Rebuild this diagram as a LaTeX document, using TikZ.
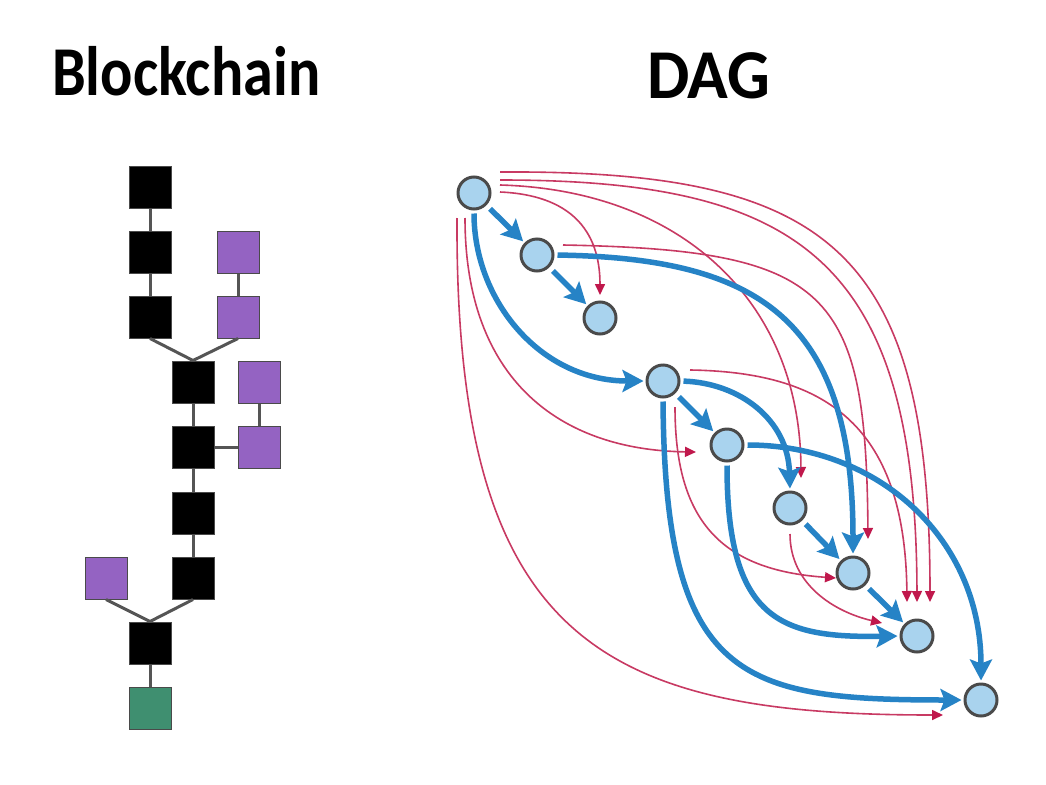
\documentclass[tikz,border=0pt]{standalone}
\usepackage{fontspec}
\setmainfont{Carlito}
\usetikzlibrary{arrows.meta,calc}
\definecolor{purp}{RGB}{148,99,194}
\definecolor{grn}{RGB}{63,143,112}
\definecolor{cfill}{RGB}{169,211,238}
\definecolor{cline}{RGB}{74,74,74}
\definecolor{blueA}{RGB}{38,131,198}
\definecolor{redA}{RGB}{200,58,99}
\definecolor{redT}{RGB}{192,24,76}
\definecolor{linkc}{RGB}{85,85,85}
\begin{document}
\begin{tikzpicture}[x=1pt,y=-1pt,
  sq/.style={rectangle,minimum size=42pt,inner sep=0pt,draw=cline,line width=1pt},
  bsq/.style={sq,fill=black},
  psq/.style={sq,fill=purp},
  gsq/.style={sq,fill=grn},
  blink/.style={draw=linkc,line width=3pt},
  dnode/.style={circle,minimum size=33pt,inner sep=0pt,fill=cfill,draw=cline,line width=2pt},
  barr/.style={draw=blueA,line width=5.5pt,-{Stealth[length=21pt,width=22pt,inset=4pt]},shorten <=5pt,shorten >=2pt},
  rarr/.style={draw=redA,line width=1.6pt,-{Triangle[length=11pt,width=10pt,fill=redT,color=redT]}},
  ttl/.style={anchor=base west,inner sep=0pt,font=\fontsize{70}{70}\selectfont\bfseries}
]
\useasboundingbox (0,0) rectangle (1046,784);
\fill[white] (0,0) rectangle (1046,784);

% titles
\node[ttl] (tb) at (52,95) {\scalebox{0.86}[1]{Blockchain}};
\node[ttl] (td) at (647,98) {\scalebox{0.96}[1]{DAG}};

% blockchain
\node[bsq] (b1) at (150,187) {};
\node[bsq] (b2) at (150,252) {};
\node[bsq] (b3) at (150,317) {};
\node[bsq] (b4) at (193,382) {};
\node[bsq] (b5) at (193,447) {};
\node[bsq] (b6) at (193,513) {};
\node[bsq] (b7) at (193,578) {};
\node[bsq] (b8) at (150,643) {};
\node[gsq] (g1) at (150,708) {};
\node[psq] (p1) at (238,252) {};
\node[psq] (p2) at (238,317) {};
\node[psq] (p3) at (259,382) {};
\node[psq] (p4) at (259,447) {};
\node[psq] (p5) at (106,578) {};

\draw[blink] (b1.south) -- (b2.north);
\draw[blink] (b2.south) -- (b3.north);
\draw[blink] (b3.south) -- (b4.north);
\draw[blink] (p1.south) -- (p2.north);
\draw[blink] (p2.south) -- (b4.north);
\draw[blink] (b4.south) -- (b5.north);
\draw[blink] (p3.south) -- (p4.north);
\draw[blink] (b5.east) -- (p4.west);
\draw[blink] (b5.south) -- (b6.north);
\draw[blink] (b6.south) -- (b7.north);
\draw[blink] (b7.south) -- (b8.north);
\draw[blink] (p5.south) -- (b8.north);
\draw[blink] (b8.south) -- (g1.north);

% DAG nodes
\node[dnode] (n1) at (474,193) {};
\node[dnode] (n2) at (537,255) {};
\node[dnode] (n3) at (600,318) {};
\node[dnode] (n4) at (663,381) {};
\node[dnode] (n5) at (727,445) {};
\node[dnode] (n6) at (790,508) {};
\node[dnode] (n7) at (853,573) {};
\node[dnode] (n8) at (917,636) {};
\node[dnode] (n9) at (981,700) {};

% red edges
\draw[rarr] ($(n1)+(26,-1)$) .. controls (570,195) and (600,230) .. ($(n3)+(0,-23)$);
\draw[rarr] ($(n1)+(26,-8)$) .. controls (680,190) and (800,300) .. ($(n6)+(11,-30)$);
\draw[rarr] ($(n1)+(26,-13)$) .. controls (800,180) and (916,260) .. ($(n8)+(0,-34)$);
\draw[rarr] ($(n1)+(26,-21)$) .. controls (830,170) and (930,250) .. ($(n8)+(13,-34)$);
\draw[rarr] ($(n1)+(-9,25)$) .. controls (465,380) and (560,450) .. ($(n5)+(-31,7)$);
\draw[rarr] ($(n1)+(-17,25)$) .. controls (455,640) and (600,715) .. ($(n9)+(-38,15)$);
\draw[rarr] ($(n2)+(26,-10)$) .. controls (830,250) and (866,290) .. ($(n7)+(15,-34)$);
\draw[rarr] ($(n4)+(27,-11)$) .. controls (820,372) and (905,420) .. ($(n8)+(-10,-34)$);
\draw[rarr] ($(n4)+(12,26)$) .. controls (675,520) and (720,570) .. ($(n7)+(-17,5)$);
\draw[rarr] ($(n6)+(0,26)$) .. controls (790,585) and (835,612) .. ($(n8)+(-35,-13)$);

% blue edges
\draw[barr] (n1) -- (n2);
\draw[barr] (n2) -- (n3);
\draw[barr] (n4) -- (n5);
\draw[barr] (n6) -- (n7);
\draw[barr] (n7) -- (n8);
\draw[barr,shorten <=3pt] (n1.south) .. controls (474,300) and (540,381) .. (n4.west);
\draw[barr,shorten <=3pt] (n2.east) .. controls (760,258) and (853,320) .. (n7.north);
\draw[barr,shorten <=3pt] (n4.east) .. controls (740,383) and (788,420) .. (n6.north);
\draw[barr,shorten <=3pt] (n5.east) .. controls (880,445) and (981,540) .. (n9.north);
\draw[barr,shorten <=3pt] (n4.south) .. controls (665,680) and (740,700) .. (n9.west);
\draw[barr,shorten <=3pt] (n5.south) .. controls (727,620) and (780,638) .. (n8.west);

% redraw nodes on top
\foreach \n in {n1,n2,n3,n4,n5,n6,n7,n8,n9}{
  \fill[cfill] (\n) circle (15.5pt);
  \draw[cline,line width=2pt] (\n) circle (15.5pt);
}
\end{tikzpicture}
\end{document}
